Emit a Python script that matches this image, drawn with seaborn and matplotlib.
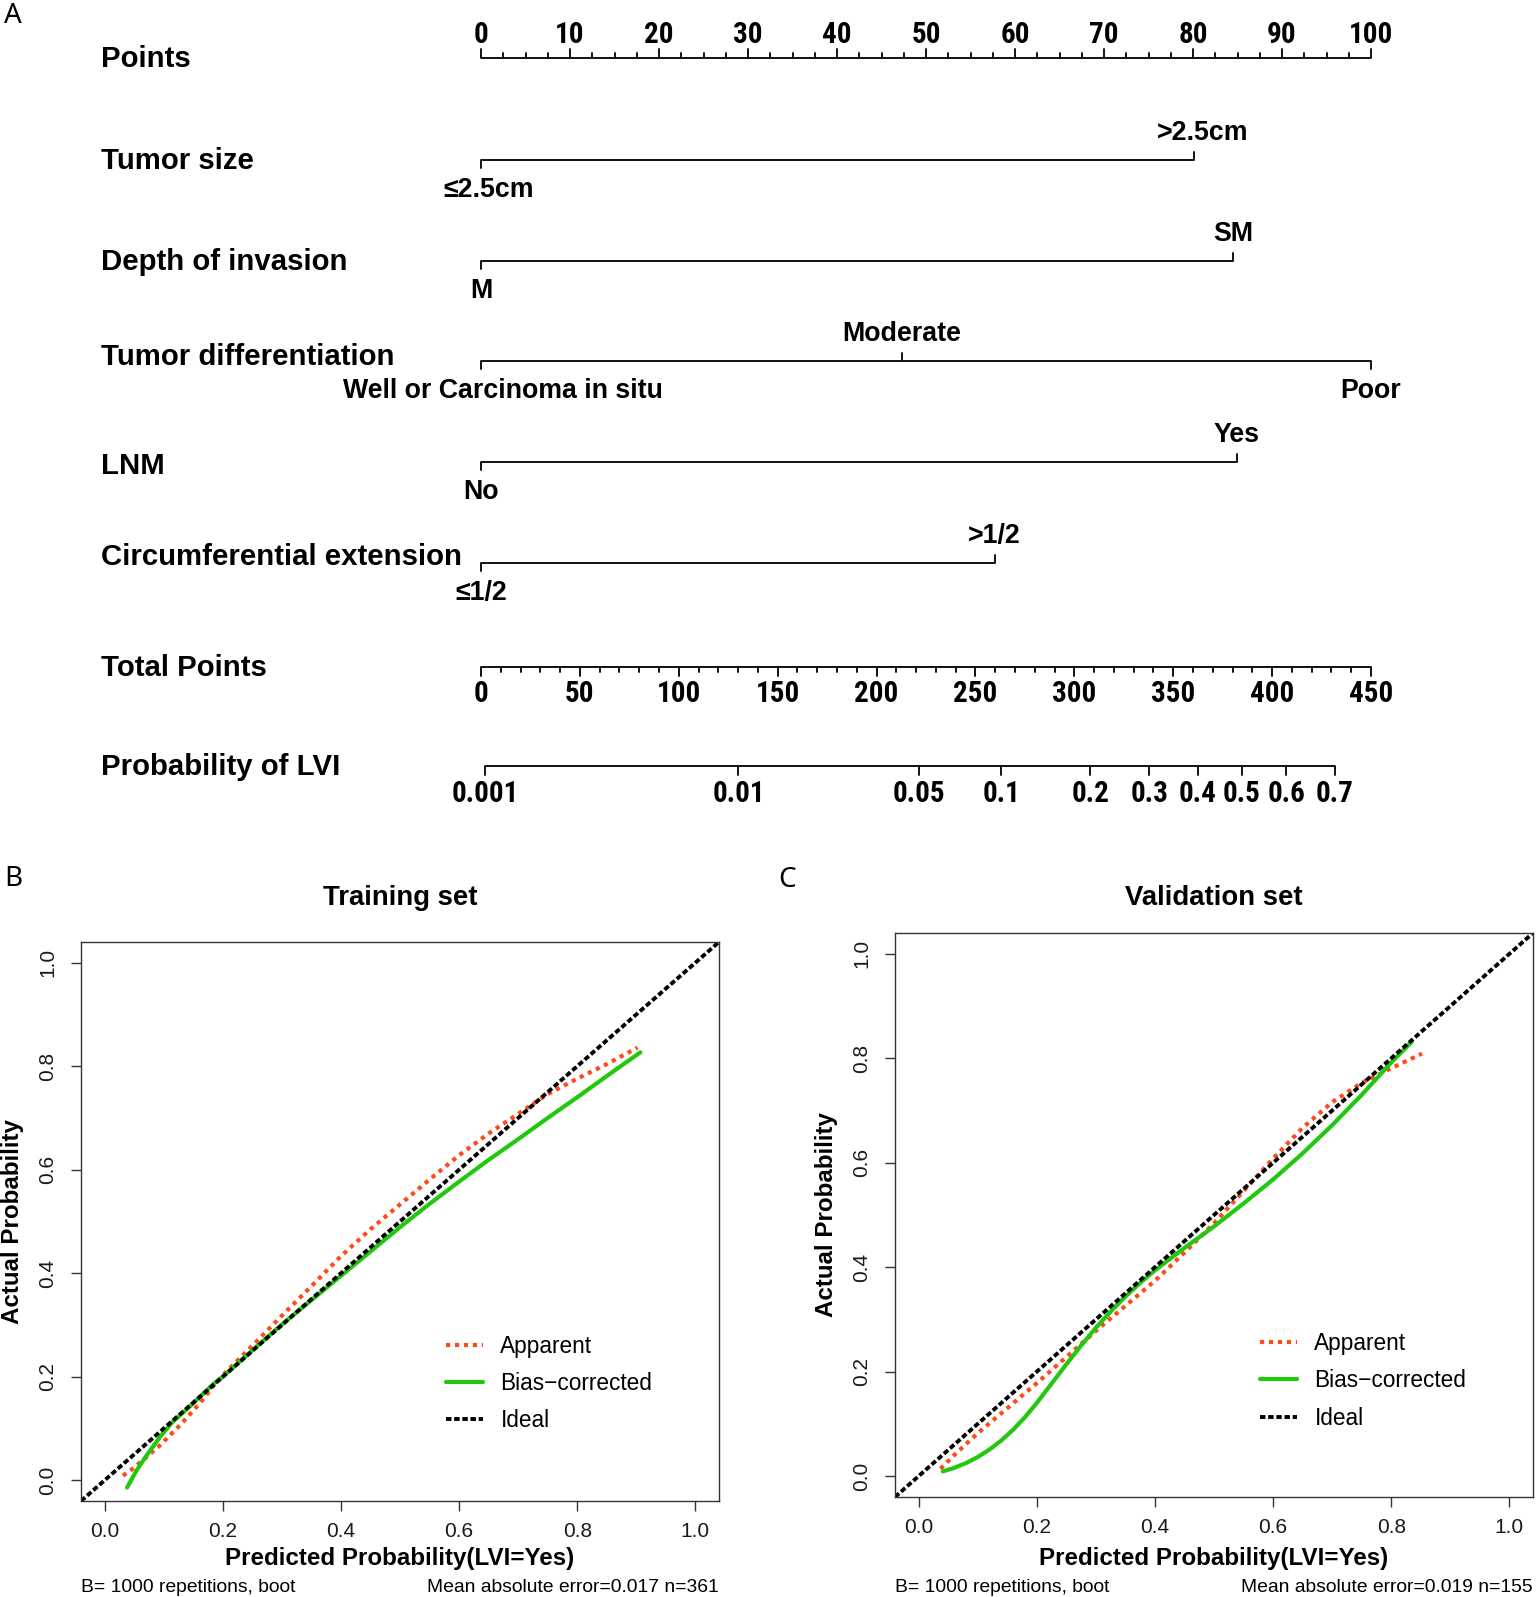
import numpy as np
import pandas as pd
import matplotlib
matplotlib.use("Agg")
import matplotlib.pyplot as plt
import seaborn as sns
from matplotlib import font_manager as fm
from matplotlib.lines import Line2D

# ---------------- data ----------------
points_major = list(range(0, 101, 10))
points_minor_step = 2.5

tumor_size_levels = ["≤2.5cm", ">2.5cm"]
tumor_size_points = [0, 80.1]
depth_levels = ["M", "SM"]
depth_points = [0, 84.5]
diff_levels = ["Well or Carcinoma in situ", "Moderate", "Poor"]
diff_points = [0, 47.3, 100]
lnm_levels = ["No", "Yes"]
lnm_points = [0, 84.9]
circ_levels = ["≤1/2", ">1/2"]
circ_points = [0, 57.7]

total_major = list(range(0, 451, 50))
total_minor_step = 10
total_max = 450

prob_ticks = [0.001, 0.01, 0.05, 0.1, 0.2, 0.3, 0.4, 0.5, 0.6, 0.7]
prob_labels = ["0.001", "0.01", "0.05", "0.1", "0.2", "0.3", "0.4", "0.5", "0.6", "0.7"]
lp_tp_at_logit0 = 384.8
lp_tp_per_logit = 55.41

train_app_x = [0.031, 0.045, 0.068, 0.094, 0.128, 0.162, 0.184, 0.20, 0.25, 0.30, 0.35, 0.40, 0.45,
               0.50, 0.55, 0.60, 0.65, 0.70, 0.75, 0.80, 0.85, 0.902]
train_app_y = [0.009, 0.020, 0.042, 0.068, 0.107, 0.150, 0.182, 0.203, 0.260, 0.318, 0.375, 0.433, 0.485,
               0.533, 0.581, 0.628, 0.670, 0.708, 0.746, 0.776, 0.804, 0.836]
train_bc_x = [0.038, 0.054, 0.071, 0.094, 0.116, 0.139, 0.184, 0.20, 0.25, 0.30, 0.35, 0.40, 0.45,
              0.50, 0.55, 0.60, 0.65, 0.70, 0.75, 0.80, 0.85, 0.907]
train_bc_y = [-0.014, 0.019, 0.048, 0.084, 0.114, 0.137, 0.186, 0.200, 0.251, 0.301, 0.348, 0.395, 0.442,
              0.489, 0.534, 0.577, 0.619, 0.659, 0.700, 0.740, 0.781, 0.827]

valid_app_x = [0.037, 0.06, 0.08, 0.10, 0.125, 0.15, 0.175, 0.20, 0.25, 0.30, 0.35, 0.40, 0.45, 0.50,
               0.55, 0.60, 0.65, 0.70, 0.75, 0.80, 0.852]
valid_app_y = [0.014, 0.040, 0.061, 0.082, 0.106, 0.130, 0.154, 0.178, 0.228, 0.278, 0.326, 0.374, 0.428,
               0.484, 0.546, 0.608, 0.667, 0.716, 0.753, 0.781, 0.809]
valid_bc_x = [0.041, 0.06, 0.08, 0.10, 0.12, 0.14, 0.16, 0.18, 0.20, 0.225, 0.25, 0.275, 0.30, 0.325,
              0.35, 0.375, 0.40, 0.45, 0.50, 0.55, 0.60, 0.65, 0.70, 0.75, 0.80, 0.835]
valid_bc_y = [0.009, 0.0157, 0.0249, 0.0365, 0.0509, 0.0683, 0.0889, 0.1129, 0.140, 0.177, 0.214, 0.250,
              0.284, 0.315, 0.344, 0.370, 0.394, 0.437, 0.478, 0.522, 0.568, 0.618, 0.672, 0.730, 0.792,
              0.832]

train_title = "Training set"
valid_title = "Validation set"
train_footer = ("B= 1000 repetitions, boot", "Mean absolute error=0.017 n=361")
valid_footer = ("B= 1000 repetitions, boot", "Mean absolute error=0.019 n=155")
legend_labels = ["Apparent", "Bias\u2212corrected", "Ideal"]
calib_ticks = [0.0, 0.2, 0.4, 0.6, 0.8, 1.0]

# ---------------- style ----------------
sns.set_theme(style="ticks")
plt.rcParams["font.family"] = ["Liberation Sans", "DejaVu Sans"]
plt.rcParams["text.color"] = "black"
plt.rcParams["axes.labelcolor"] = "black"


def has_font(name):
    try:
        fm.findfont(fm.FontProperties(family=name), fallback_to_default=False)
        return True
    except Exception:
        return False


narrow_candidates = ["Liberation Sans Narrow", "Arial Narrow", "Nimbus Sans Narrow", "Roboto Condensed"]
narrow_found = [f for f in narrow_candidates if has_font(f)]
if narrow_found:
    NARROW = [narrow_found[0], "Liberation Sans", "DejaVu Sans"]
    num_size = 21
else:
    NARROW = ["Liberation Sans", "DejaVu Sans"]
    num_size = 19
LETTER = ["Noto Sans", "DejaVu Sans"]

W, H = 1536, 1597
fig = plt.figure(figsize=(W / 100, H / 100), dpi=100)

# ---------------- nomogram ----------------
X0, X100 = 481.0, 1371.0
ppp = (X100 - X0) / 100.0
ax = fig.add_axes([0, 0, 1, 1])
ax.set_xlim(-X0 / ppp, (W - X0) / ppp)
ax.set_ylim(H, 0)
ax.axis("off")
LC = "#111111"
LW = 1.4
label_x = (101 - X0) / ppp
var_size = 21.2
cat_size = 19.3
# small horizontal nudges (pixels) of level labels, as placed in the original figure
label_nudge_px = {"Well or Carcinoma in situ": 22, "≤2.5cm": 8, ">2.5cm": 9}


def var_label(y, text, dy=0):
    ax.text(label_x, y + 1 + dy, text, ha="left", va="center", fontsize=var_size, fontweight="bold",
            color="black")


# Points axis
y_pts = 58
var_label(y_pts, "Points")
ax.plot([points_major[0], points_major[-1]], [y_pts, y_pts], color=LC, lw=LW, solid_capstyle="butt")
for v in np.arange(points_major[0], points_major[-1] + 0.01, points_minor_step):
    major = abs(v / 10 - round(v / 10)) < 1e-9
    ax.plot([v, v], [y_pts, y_pts - (9 if major else 5)], color=LC, lw=LW)
for v in points_major:
    ax.text(v, y_pts - 23, f"{v}", ha="center", va="center", fontsize=num_size, fontweight="bold",
            family=NARROW)


def cat_row(y, name, pts, labels, dy=0, up_off=27, down_off=30):
    var_label(y, name, dy)
    ax.plot([min(pts), max(pts)], [y, y], color=LC, lw=LW, solid_capstyle="butt")
    for i, (p, lab) in enumerate(zip(pts, labels)):
        up = (i % 2 == 1)
        ax.plot([p, p], [y, y - 8 if up else y + 8], color=LC, lw=LW)
        nx = label_nudge_px.get(lab, 0) / ppp
        ax.text(p + nx, y - up_off if up else y + down_off, lab, ha="center", va="center",
                fontsize=cat_size, fontweight="bold")


cat_row(160, "Tumor size", tumor_size_points, tumor_size_levels)
cat_row(261, "Depth of invasion", depth_points, depth_levels)
cat_row(361, "Tumor differentiation", diff_points, diff_levels, dy=-5)
cat_row(462, "LNM", lnm_points, lnm_levels, dy=3)
cat_row(563, "Circumferential extension", circ_points, circ_levels, dy=-7)

# Total points axis
y_tot = 667
var_label(y_tot, "Total Points")
tscale = 100.0 / total_max
ax.plot([total_major[0] * tscale, total_major[-1] * tscale], [y_tot, y_tot], color=LC, lw=LW,
        solid_capstyle="butt")
for v in np.arange(total_major[0], total_major[-1] + 0.01, total_minor_step):
    major = abs(v / 50 - round(v / 50)) < 1e-9
    ax.plot([v * tscale, v * tscale], [y_tot, y_tot + (9 if major else 5)], color=LC, lw=LW)
for v in total_major:
    ax.text(v * tscale, y_tot + 27, f"{v}", ha="center", va="center", fontsize=num_size,
            fontweight="bold", family=NARROW)

# Probability axis
y_prob = 766
var_label(y_prob, "Probability of LVI")
p_arr = np.array(prob_ticks)
tp = lp_tp_at_logit0 + lp_tp_per_logit * np.log(p_arr / (1 - p_arr))
xp = tp * tscale
ax.plot([xp.min(), xp.max()], [y_prob, y_prob], color=LC, lw=LW, solid_capstyle="butt")
for x, lab in zip(xp, prob_labels):
    ax.plot([x, x], [y_prob, y_prob + 9], color=LC, lw=LW)
    ax.text(x, y_prob + 28, lab, ha="center", va="center", fontsize=num_size, fontweight="bold",
            family=NARROW)

# panel letters
fig.text(13 / W, 1 - 16 / H, "A", ha="center", va="center", fontsize=20, family=LETTER)
fig.text(13 / W, 1 - 879 / H, "B", ha="center", va="center", fontsize=20, family=LETTER)
fig.text(787 / W, 1 - 880 / H, "C", ha="center", va="center", fontsize=20, family=LETTER)

# ---------------- calibration panels ----------------
ORANGE = "#ff4a1c"
GREEN = "#22c80e"
APP_LS = (0, (1.0, 1.15))
IDEAL_LS = (0, (1.4, 0.7))


def calib(box, title, ax_, ay_, bx_, by_, footer, leg_y):
    l, t, r, b = box
    a = fig.add_axes([l / W, 1 - b / H, (r - l) / W, (b - t) / H])
    a.set_xlim(-0.04, 1.04)
    a.set_ylim(-0.04, 1.04)
    df_app = pd.DataFrame({"pred": ax_, "actual": ay_})
    df_bc = pd.DataFrame({"pred": bx_, "actual": by_})
    sns.lineplot(data=df_app, x="pred", y="actual", ax=a, color=ORANGE, lw=3.0, estimator=None,
                 sort=False)
    a.lines[-1].set_linestyle(APP_LS)
    sns.lineplot(data=df_bc, x="pred", y="actual", ax=a, color=GREEN, lw=3.0, estimator=None,
                 sort=False)
    a.lines[-1].set_solid_joinstyle("round")
    a.axline((0, 0), (1, 1), color="black", lw=2.8, linestyle=IDEAL_LS)
    for s in a.spines.values():
        s.set_visible(True)
        s.set_color("#333333")
        s.set_linewidth(1.0)
    a.set_xticks(calib_ticks)
    a.set_yticks(calib_ticks)
    a.set_xticklabels([f"{v:.1f}" for v in calib_ticks], fontsize=15)
    a.set_yticklabels([f"{v:.1f}" for v in calib_ticks], fontsize=15, rotation=90, va="center")
    a.tick_params(axis="both", direction="out", length=7, width=1.0, color="#333333",
                  labelcolor="#1a1a1a")
    a.tick_params(axis="x", pad=8)
    a.tick_params(axis="y", pad=10)
    a.set_xlabel("Predicted Probability(LVI=Yes)", fontsize=17.4, fontweight="bold")
    a.set_ylabel("Actual Probability", fontsize=17.4, fontweight="bold")
    a.xaxis.set_label_coords(0.5, -(1559 - b) / (b - t))
    a.xaxis.label.set_va("center")
    a.yaxis.set_label_coords(-68.5 / (r - l), 0.5)
    a.yaxis.label.set_va("center")
    handles = [Line2D([], [], color=ORANGE, lw=3.0, linestyle=APP_LS),
               Line2D([], [], color=GREEN, lw=3.0),
               Line2D([], [], color="black", lw=2.8, linestyle=IDEAL_LS)]
    a.legend(handles, legend_labels, loc="upper left", bbox_to_anchor=(0.578, leg_y),
             bbox_transform=a.transData, frameon=False, fontsize=16.3, handlelength=1.65,
             handletextpad=0.75, labelspacing=0.63, borderpad=0, borderaxespad=0)
    fig.text((l + r) / 2 / W, 1 - 898 / H, title, ha="center", va="center", fontsize=19.8,
             fontweight="bold")
    fig.text(l / W, 1 - 1587 / H, footer[0], ha="left", va="center", fontsize=13.9)
    fig.text(r / W, 1 - 1587 / H, footer[1], ha="right", va="center", fontsize=13.9)
    return a


calib((81, 942, 719, 1501), train_title, train_app_x, train_app_y, train_bc_x, train_bc_y,
      train_footer, 0.281)
calib((895, 933, 1533, 1497), valid_title, valid_app_x, valid_app_y, valid_bc_x, valid_bc_y,
      valid_footer, 0.276)

fig.savefig("out.png", dpi=100)
